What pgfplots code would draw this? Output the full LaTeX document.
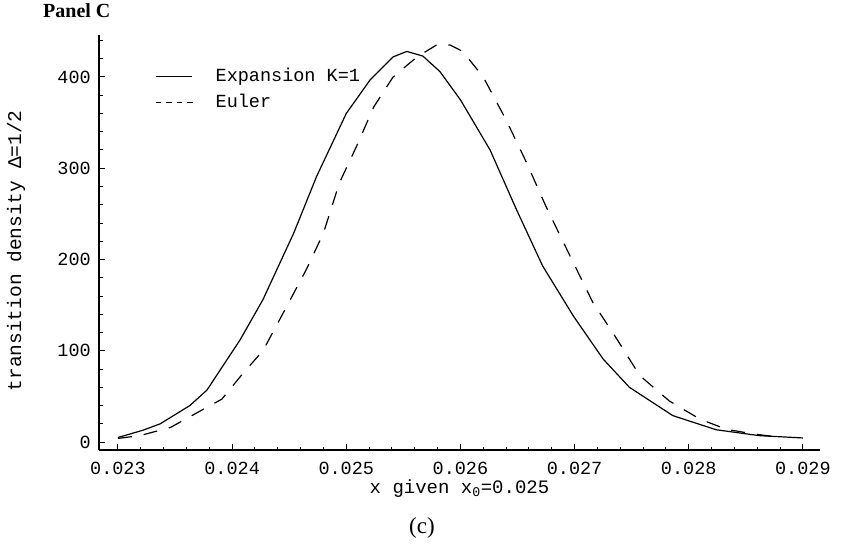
\documentclass[border=0pt]{standalone}
\usepackage{fontspec}
\setmainfont{Liberation Serif}
\setmonofont{Liberation Mono}
\usepackage{pgfplots}
\pgfplotsset{compat=1.18}

\pgfplotstableread{
x y
0.02300 5
0.02322 13
0.02337 20
0.02363 40
0.02378 57
0.02407 112
0.02427 156
0.02454 229
0.02474 291
0.02500 360
0.02521 397
0.02541 422
0.02553 428
0.02567 423
0.02582 406
0.02600 375
0.02626 320
0.02649 255
0.02672 193
0.02699 138
0.02725 91
0.02748 60
0.02786 29
0.02824 13.5
0.02862 7
0.02900 4.5
}\expansion

\pgfplotstableread{
x y
0.02300 4
0.02319 7
0.02346 16
0.02372 34
0.02391 47
0.02410 76
0.02427 100
0.02445 142
0.02465 189
0.02480 229
0.02494 284
0.02509 324
0.02524 367
0.02541 400
0.02562 422
0.02579 435
0.02591 435
0.02602 428
0.02620 400
0.02640 353
0.02658 306
0.02675 258
0.02696 204
0.02716 153
0.02737 113
0.02757 73
0.02783 45
0.02810 25
0.02833 14
0.02856 9
0.02875 6
}\euler

\begin{document}
\begin{tikzpicture}
\useasboundingbox (0pt,0pt) rectangle (845pt,-545pt);
\begin{axis}[
  at={(99pt,-450pt)}, anchor=south west,
  scale only axis, width=721pt, height=415pt,
  xmin=0.022834, xmax=0.02915, ymin=-8.7, ymax=446,
  axis x line=bottom, axis y line=left,
  axis line style={line width=1.4pt, -},
  scaled x ticks=false, scaled y ticks=false,
  xtick={0.023,0.024,0.025,0.026,0.027,0.028,0.029},
  xticklabels={0.023,0.024,0.025,0.026,0.027,0.028,0.029},
  ytick={0,100,200,300,400},
  yticklabels={0,100,200,300,400},
  minor xtick={0.0232,0.0234,0.0236,0.0238,0.0242,0.0244,0.0246,0.0248,0.0252,0.0254,0.0256,0.0258,0.0262,0.0264,0.0266,0.0268,0.0272,0.0274,0.0276,0.0278,0.0282,0.0284,0.0286,0.0288},
  minor ytick={20,40,60,80,120,140,160,180,220,240,260,280,320,340,360,380,420,440},
  tick align=inside,
  major tick length=6pt, minor tick length=3.5pt,
  tick style={line width=1pt, black},
  xticklabel style={font=\ttfamily\fontsize{18.5}{20}\selectfont, inner sep=0pt, anchor=north, yshift=-12pt},
  yticklabel style={font=\ttfamily\fontsize{18.5}{20}\selectfont, inner sep=0pt, anchor=east, xshift=-8pt},
  xlabel={x given x\textsubscript{0}=0.025},
  ylabel={transition density Δ=1/2},
  xlabel style={font=\ttfamily\fontsize{19}{20}\selectfont, at={(axis description cs:0.5,-0.093)}, anchor=center},
  ylabel style={font=\ttfamily\fontsize{19.5}{20}\selectfont, at={(axis description cs:-0.115,0.48)}, anchor=center},
  legend style={draw=none, fill=none, at={(rel axis cs:0.0735,0.925)}, anchor=north west,
    nodes={inner sep=0pt, text height=13pt, text depth=4pt}, row sep=9pt, column sep=0pt,
    font=\ttfamily\fontsize{18.5}{20}\selectfont},
  legend cell align=left,
]
\addplot[black, line width=1.2pt, sharp plot,
  legend image code/.code={\draw[black, solid, line width=1pt] (0pt,0pt) -- (36pt,0pt); \path[draw=none] (0pt,0pt) -- (60pt,0pt);}]
  table[x=x,y=y] {\expansion};
\addlegendentry{Expansion K=1}
\addplot[black, line width=1.2pt, sharp plot, dash pattern=on 14pt off 12pt,
  legend image code/.code={\draw[black, line width=1pt, dash pattern=on 5.5pt off 5pt] (0pt,0pt) -- (37pt,0pt); \path[draw=none] (0pt,0pt) -- (60pt,0pt);}]
  table[x=x,y=y] {\euler};
\addlegendentry{Euler}
\end{axis}
\node[anchor=base west, font=\bfseries\fontsize{20}{22}\selectfont, inner sep=0pt] at (43pt,-18pt) {Panel C};
\node[anchor=base, font=\fontsize{23}{25}\selectfont, inner sep=0pt] at (422pt,-533pt) {(c)};
\end{tikzpicture}
\end{document}
